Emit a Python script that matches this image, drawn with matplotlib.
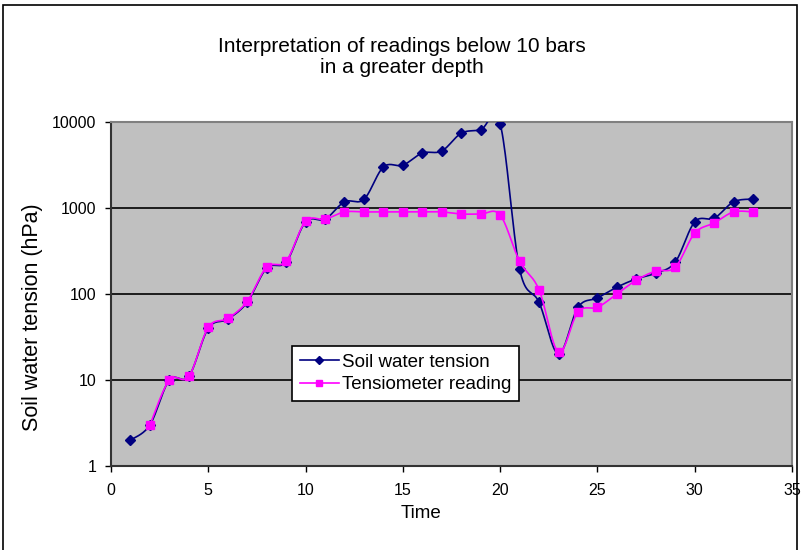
import numpy as np
import matplotlib
matplotlib.use('Agg')
import matplotlib.pyplot as plt
from matplotlib.patches import Rectangle
from matplotlib.lines import Line2D

plt.rcParams['font.family'] = ['Liberation Sans', 'DejaVu Sans']

# data
time_soil = list(range(1, 34))
soil_tension = [2.0, 3.0, 10, 11, 40, 51, 80, 200, 235, 690, 740, 1180, 1260,
                3000, 3150, 4350, 4600, 7400, 8100, 9500, 195, 80, 20, 70, 90,
                120, 150, 175, 235, 690, 760, 1180, 1270]
time_tens = list(range(2, 34))
tens_reading = [3.0, 10, 11, 41, 52, 82, 205, 240, 700, 740, 900, 900, 900,
                900, 900, 900, 850, 850, 830, 240, 112, 21, 62, 70, 100, 145,
                185, 205, 510, 670, 900, 900]

title = 'Interpretation of readings below 10 bars\nin a greater depth'
x_ticks = [0, 5, 10, 15, 20, 25, 30, 35]
y_ticks = [1, 10, 100, 1000, 10000]


def smooth(xs, ys, n=20):
    """Excel style smoothed line: Catmull-Rom bezier in (x, log y)."""
    px = np.asarray(xs, float)
    py = np.log10(np.asarray(ys, float))
    P = np.column_stack([px, py])
    P = np.vstack([P[0], P, P[-1]])
    out = []
    t = np.linspace(0, 1, n)[:, None]
    for i in range(1, len(P) - 2):
        p0, p1, p2, p3 = P[i - 1], P[i], P[i + 1], P[i + 2]
        c1 = p1 + (p2 - p0) / 6
        c2 = p2 - (p3 - p1) / 6
        seg = ((1 - t) ** 3) * p1 + 3 * ((1 - t) ** 2) * t * c1 \
            + 3 * (1 - t) * t ** 2 * c2 + t ** 3 * p2
        out.append(seg if i == 1 else seg[1:])
    seg = np.vstack(out)
    return seg[:, 0], 10 ** seg[:, 1]


fig = plt.figure(figsize=(8.01, 5.5), dpi=100)
# chart area border (bottom edge runs off the picture)
fig.patches.append(Rectangle((3 / 801, -5 / 550), 794 / 801, 550 / 550,
                             transform=fig.transFigure, fill=False,
                             edgecolor='black', linewidth=1.2))

ax = fig.add_axes([111 / 801, 1 - 466 / 550, 681 / 801, 344 / 550])
ax.set_facecolor('#C0C0C0')
ax.set_yscale('log')
ax.set_xlim(0, 35)
ax.set_ylim(1, 10000)

for v in y_ticks[1:-1]:
    ax.axhline(v, color='black', linewidth=1.2, zorder=1)

blue = '#000080'
pink = '#FF00FF'

sx, sy = smooth(time_soil, soil_tension)
ax.plot(sx, sy, color=blue, linewidth=1.2, zorder=3)
ax.plot(time_soil, soil_tension, linestyle='none', marker='D', markersize=5.5,
        color=blue, zorder=4)

tx, ty = smooth(time_tens, tens_reading)
ax.plot(tx, ty, color=pink, linewidth=1.2, zorder=5)
ax.plot(time_tens, tens_reading, linestyle='none', marker='s', markersize=6,
        color=pink, zorder=6)

ax.set_xticks(x_ticks)
ax.set_yticks(y_ticks)
ax.set_yticklabels([str(v) for v in y_ticks])
ax.yaxis.set_minor_locator(matplotlib.ticker.NullLocator())
ax.tick_params(axis='both', direction='out', length=4.5, width=1,
               labelsize=11.5, color='black')
ax.tick_params(axis='x', pad=8)
ax.tick_params(axis='y', pad=6)

for side in ['top', 'right']:
    ax.spines[side].set_color('#808080')
    ax.spines[side].set_linewidth(1.5)
for side in ['left', 'bottom']:
    ax.spines[side].set_color('#333333')
    ax.spines[side].set_linewidth(1.5)

fig.text(421 / 801, 1 - 514 / 550, 'Time', ha='center', va='center',
         fontsize=13.5)
fig.text(33 / 801, 1 - 317 / 550, 'Soil water tension (hPa)', ha='center',
         va='center', rotation=90, fontsize=15.5)

fig.text(402 / 801, 1 - 57 / 550, title, ha='center', va='center',
         fontsize=15, linespacing=1.1)

handles = [Line2D([], [], color=blue, marker='D', markersize=4.5, linewidth=1.2),
           Line2D([], [], color=pink, marker='s', markersize=5, linewidth=1.2)]
leg = ax.legend(handles, ['Soil water tension', 'Tensiometer reading'],
                loc='upper left', bbox_to_anchor=(0.266, 0.349),
                fontsize=13.5, frameon=True, fancybox=False, framealpha=1,
                edgecolor='black', borderpad=0.4, labelspacing=0.3,
                handlelength=2.1, handletextpad=0.15, borderaxespad=0)
leg.get_frame().set_linewidth(1.2)

fig.savefig('out.png', dpi=100)
